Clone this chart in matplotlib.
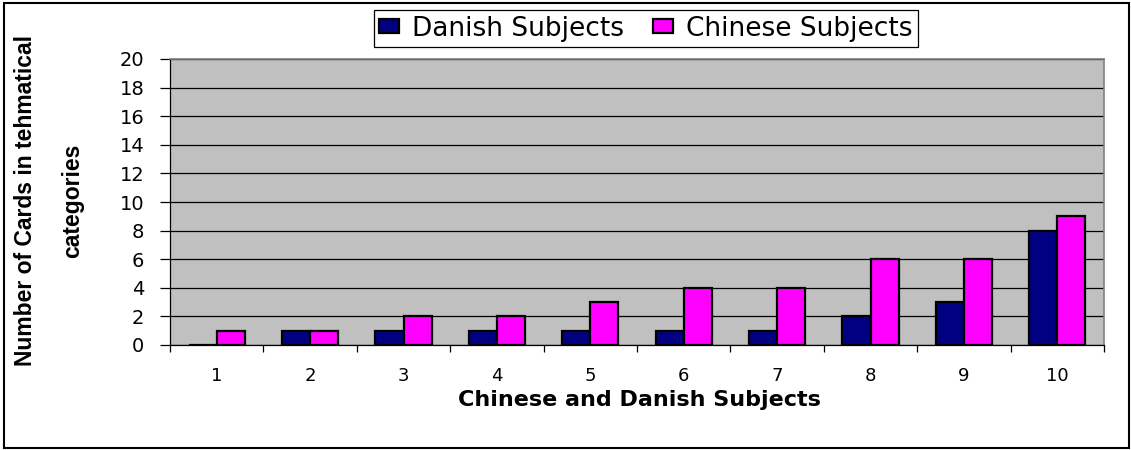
import matplotlib
matplotlib.use("Agg")
import matplotlib.pyplot as plt
from matplotlib.patches import Rectangle
import numpy as np

categories = ["1", "2", "3", "4", "5", "6", "7", "8", "9", "10"]
danish = [0, 1, 1, 1, 1, 1, 1, 2, 3, 8]
chinese = [1, 1, 2, 2, 3, 4, 4, 6, 6, 9]
series_names = ["Danish Subjects", "Chinese Subjects"]
y_ticks = list(range(0, 21, 2))
x_label = "Chinese and Danish Subjects"
y_label = "Number of Cards in tehmatical\ncategories"

W, H = 1131, 450
fig = plt.figure(figsize=(W / 100, H / 100), dpi=100)
fig.patch.set_facecolor("white")

# outer frame
fig.patches.append(Rectangle((4 / W, 1 - 448 / H), 1125 / W, 445 / H,
                             transform=fig.transFigure, fill=False,
                             edgecolor="black", linewidth=1.5))

ax = fig.add_axes([170 / W, 1 - 345 / H, 934 / W, 286 / H])
ax.set_facecolor("#C0C0C0")
ax.set_axisbelow(True)

x = np.arange(len(categories))
bw = 0.3
ax.bar(x - bw / 2, danish, width=bw, color="#000080", edgecolor="black",
       linewidth=1.6, label=series_names[0], zorder=3)
ax.bar(x + bw / 2, chinese, width=bw, color="#FF00FF", edgecolor="black",
       linewidth=1.6, label=series_names[1], zorder=3)

ax.set_xlim(-0.5, len(categories) - 0.5)
ax.set_ylim(0, 20)
ax.set_yticks(y_ticks)
ax.yaxis.grid(True, color="black", linewidth=0.9)

tick_font = dict(family="DejaVu Sans", size=14)
ax.set_yticklabels([str(v) for v in y_ticks], fontdict=tick_font)
ax.tick_params(axis="y", direction="out", length=7.5, width=0.9, pad=11,
               color="black")

ax.set_xticks(x)
ax.set_xticklabels(categories, fontdict=dict(family="DejaVu Sans", size=13))
ax.tick_params(axis="x", which="major", length=0, pad=15.5)
ax.set_xticks(np.arange(-0.5, len(categories) + 0.5, 1), minor=True)
ax.tick_params(axis="x", which="minor", direction="out", length=5, width=0.9,
               color="black")

for side in ["left", "bottom"]:
    ax.spines[side].set_color("black")
    ax.spines[side].set_linewidth(0.9)
for side in ["top", "right"]:
    ax.spines[side].set_color("#808080")
    ax.spines[side].set_linewidth(1.2)

xl = ax.set_xlabel(x_label, fontdict=dict(family="DejaVu Sans", size=16,
                                           weight="bold"))
ax.xaxis.set_label_coords((639 - 170) / 934, -(400.5 - 345) / 286)
xl.set_va("center")

yl = ax.set_ylabel(y_label, fontdict=dict(family="Liberation Sans", size=16.5,
                                           weight="bold"),
                   linespacing=2.3)
ax.yaxis.set_label_coords((49 - 170) / 934, (345 - 201) / 286)
yl.set_va("center")
yl.set_ha("center")

# legend centred at the top of the figure
leg = ax.legend(loc="center", ncol=2,
                bbox_to_anchor=((646 - 170) / 934, (345 - 28.5) / 286),
                bbox_transform=ax.transAxes,
                prop=dict(family="DejaVu Sans", size=19),
                frameon=True, fancybox=False, shadow=False,
                handlelength=0.75, handleheight=0.42, handletextpad=0.5,
                borderpad=0.2, borderaxespad=0, columnspacing=1.1)
leg.get_frame().set_edgecolor("black")
leg.get_frame().set_linewidth(0.9)
leg.get_frame().set_facecolor("white")
leg.get_frame().set_alpha(1)

fig.savefig("out.png", dpi=100)
